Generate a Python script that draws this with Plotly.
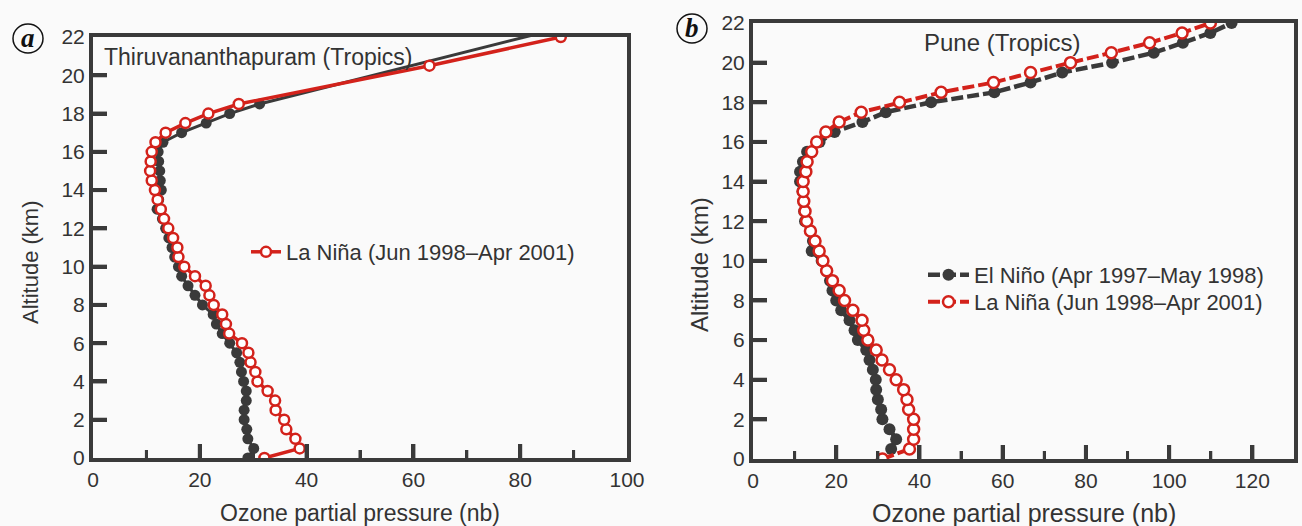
import plotly.graph_objects as go

W, H = 1302, 526

# ---------------- data ----------------
# Panel a: Thiruvananthapuram
alt_a_elnino = [0, 0.5, 1, 1.5, 2, 2.5, 3, 3.5, 4, 4.5, 5, 5.5, 6, 6.5, 7, 7.5, 8, 8.5, 9, 9.5,
                10, 10.5, 11, 11.5, 12, 12.5, 13, 13.5, 14, 14.5, 15, 15.5, 16, 16.5, 17, 17.5,
                18, 18.5, 22.5]
o3_a_elnino = [29.0, 30.1, 29.0, 28.8, 28.3, 28.3, 28.7, 28.7, 28.2, 27.8, 27.5, 26.9, 25.6, 24.2,
               23.1, 22.5, 20.5, 19.1, 17.8, 16.6, 16.0, 15.3, 14.8, 14.2, 13.6, 13.0, 12.0, 12.3,
               12.8, 12.6, 12.5, 12.3, 12.2, 13.1, 16.6, 21.2, 25.6, 31.2, 88.0]

alt_a_lanina = [0, 0.5, 1, 1.5, 2, 2.5, 3, 3.5, 4, 4.5, 5, 5.5, 6, 6.5, 7, 7.5, 8, 8.5, 9, 9.5,
                10, 10.5, 11, 11.5, 12, 12.5, 13, 13.5, 14, 14.5, 15, 15.5, 16, 16.5, 17, 17.5,
                18, 18.5, 20.5, 22]
o3_a_lanina = [32.1, 38.7, 37.9, 36.2, 35.8, 34.2, 34.1, 32.7, 30.8, 30.4, 29.5, 29.1, 27.9, 25.5,
               24.9, 24.2, 22.6, 21.8, 21.1, 19.1, 17.1, 16.0, 15.8, 15.0, 14.1, 13.3, 12.7, 12.1,
               11.6, 11.0, 10.7, 10.8, 11.0, 11.7, 13.6, 17.3, 21.6, 27.3, 63.0, 87.6]

# Panel b: Pune
alt_b = [0.5, 1, 1.5, 2, 2.5, 3, 3.5, 4, 4.5, 5, 5.5, 6, 6.5, 7, 7.5, 8, 8.5, 9, 9.5, 10,
         10.5, 11, 11.5, 12, 12.5, 13, 13.5, 14, 14.5, 15, 15.5, 16, 16.5, 17, 17.5, 18,
         18.5, 19, 19.5, 20, 20.5, 21, 21.5, 22]
o3_b_elnino = [33.2, 34.4, 32.8, 31.1, 30.8, 30.0, 29.6, 29.5, 28.8, 28.0, 27.2, 25.2, 24.4, 23.2,
               21.2, 20.0, 19.1, 18.5, 17.6, 16.5, 14.1, 14.4, 13.8, 12.5, 12.3, 12.1, 11.9, 11.3,
               11.3, 12.0, 13.0, 16.0, 19.6, 26.3, 31.9, 42.8, 58.0, 66.7, 74.3, 86.3, 96.3, 103.3,
               109.9, 115.0]

alt_b_lanina = [0, 0.5, 1, 1.5, 2, 2.5, 3, 3.5, 4, 4.5, 5, 5.5, 6, 6.5, 7, 7.5, 8, 8.5, 9, 9.5,
                10, 10.5, 11, 11.5, 12, 12.5, 13, 13.5, 14, 14.5, 15, 15.5, 16, 16.5, 17, 17.5,
                18, 18.5, 19, 19.5, 20, 20.5, 21, 21.5, 22]
o3_b_lanina = [31.1, 37.6, 38.6, 38.6, 38.6, 37.4, 37.0, 36.2, 34.4, 32.8, 31.0, 29.6, 27.6, 26.6,
               26.2, 24.0, 22.0, 20.7, 19.1, 17.7, 16.8, 15.9, 14.9, 13.8, 12.9, 12.5, 12.2, 12.05,
               12.05, 12.7, 13.0, 14.1, 15.3, 17.5, 20.7, 26.0, 35.2, 45.2, 57.8, 66.7, 76.3, 86.1,
               95.3, 103.1, 109.9]

# axes
x_range_a = [0, 100]
x_range_b = [0, 130]
y_range = [0, 22]
x_ticks_a = [0, 20, 40, 60, 80, 100]
x_minor_a = [10, 30, 50, 70, 90]
x_ticks_b = [0, 20, 40, 60, 80, 100, 120]
x_minor_b = [10, 30, 50, 70, 90, 110]
y_ticks = [0, 2, 4, 6, 8, 10, 12, 14, 16, 18, 20, 22]

name_elnino = "El Niño (Apr 1997–May 1998)"
name_lanina = "La Niña (Jun 1998–Apr 2001)"
title_a = "Thiruvananthapuram (Tropics)"
title_b = "Pune (Tropics)"
xlabel = "Ozone partial pressure (nb)"
ylabel = "Altitude (km)"

# ---------------- style ----------------
DARK = "#3a3a3a"
TXT = "#333333"
RED = "#d3221b"
BG = "#fafafa"
FONT = "Liberation Sans"
SERIF = "Liberation Serif"
MAJ_LEN, MIN_LEN = 14, 8

# plot areas in pixels (left, right, top, bottom)
a_x0, a_x1, a_top, a_bot = 93, 627, 37, 458
b_x0, b_x1, b_top, b_bot = 753, 1294, 23, 459


def px_x(p):
    return p / W


def px_y(p):
    return (H - p) / H


fig = go.Figure()

# Panel a traces
fig.add_trace(go.Scatter(x=o3_a_elnino, y=alt_a_elnino, mode="lines+markers", name=name_elnino,
                         line=dict(color=DARK, width=3),
                         marker=dict(color=DARK, size=11, symbol="circle"),
                         xaxis="x", yaxis="y", legend="legend"))
fig.add_trace(go.Scatter(x=o3_a_lanina, y=alt_a_lanina, mode="lines+markers", name=name_lanina,
                         line=dict(color=RED, width=3.5),
                         marker=dict(color="white", size=10, symbol="circle",
                                     line=dict(color=RED, width=2.5)),
                         xaxis="x", yaxis="y", legend="legend2"))
# Panel b traces
fig.add_trace(go.Scatter(x=o3_b_elnino, y=alt_b, mode="lines+markers", name=name_elnino,
                         line=dict(color=DARK, width=4.5, dash="12px,4px"),
                         marker=dict(color=DARK, size=12, symbol="circle"),
                         xaxis="x2", yaxis="y2", legend="legend3"))
fig.add_trace(go.Scatter(x=o3_b_lanina, y=alt_b_lanina, mode="lines+markers", name=name_lanina,
                         line=dict(color=RED, width=4, dash="12px,4px"),
                         marker=dict(color="white", size=11, symbol="circle",
                                     line=dict(color=RED, width=2.5)),
                         xaxis="x2", yaxis="y2", legend="legend4"))

fig.update_layout(template="none")

tickfont = dict(family=FONT, size=21, color=TXT)


def ax(**kw):
    d = dict(showline=True, linecolor=DARK, linewidth=4, mirror=True, ticks="inside",
             tickcolor=DARK, tickwidth=4, ticklen=MAJ_LEN, showgrid=False, zeroline=False,
             tickfont=tickfont)
    d.update(kw)
    return d


fig.update_layout(
    xaxis=ax(domain=[px_x(a_x0), px_x(a_x1)], range=x_range_a, tickvals=x_ticks_a, anchor="y",
             minor=dict(ticks="inside", tickvals=x_minor_a, ticklen=MIN_LEN, tickwidth=3,
                        tickcolor=DARK)),
    yaxis=ax(domain=[px_y(a_bot), px_y(a_top)], range=y_range, tickvals=y_ticks, anchor="x"),
    xaxis2=ax(domain=[px_x(b_x0), px_x(b_x1)], range=x_range_b, tickvals=x_ticks_b, anchor="y2",
              minor=dict(ticks="inside", tickvals=x_minor_b, ticklen=MIN_LEN, tickwidth=3,
                         tickcolor=DARK)),
    yaxis2=ax(domain=[px_y(b_bot), px_y(b_top)], range=y_range, tickvals=y_ticks, anchor="x2"),
)

leg_common = dict(xanchor="left", yanchor="middle", bgcolor="rgba(0,0,0,0)",
                  font=dict(family=FONT, size=22, color=TXT), borderwidth=0)
fig.update_layout(
    width=W, height=H, margin=dict(l=0, r=0, t=0, b=0),
    paper_bgcolor=BG, plot_bgcolor=BG,
    font=dict(family=FONT, color=TXT),
    legend=dict(x=px_x(246), y=px_y(228), itemwidth=30, **leg_common),
    legend2=dict(x=px_x(246), y=px_y(252), itemwidth=30, **leg_common),
    legend3=dict(x=px_x(923), y=px_y(275), itemwidth=41, **leg_common),
    legend4=dict(x=px_x(923), y=px_y(302), itemwidth=41, **leg_common),
)

annotations = [
    dict(text=title_a, x=px_x(102), y=px_y(57), xanchor="left", yanchor="middle",
         font=dict(family=FONT, size=23, color=TXT)),
    dict(text=title_b, x=px_x(922), y=px_y(43), xanchor="left", yanchor="middle",
         font=dict(family=FONT, size=24, color=TXT)),
    dict(text=xlabel, x=px_x((a_x0 + a_x1) / 2), y=px_y(513), xanchor="center", yanchor="middle",
         font=dict(family=FONT, size=23, color=TXT)),
    dict(text=xlabel, x=px_x((b_x0 + b_x1) / 2), y=px_y(513), xanchor="center", yanchor="middle",
         font=dict(family=FONT, size=25, color=TXT)),
    dict(text=ylabel, x=px_x(30), y=px_y(263), xanchor="center", yanchor="middle", textangle=-90,
         font=dict(family=FONT, size=22, color=TXT)),
    dict(text=ylabel, x=px_x(700), y=px_y(265), xanchor="center", yanchor="middle", textangle=-90,
         font=dict(family=FONT, size=24, color=TXT)),
    dict(text="<b><i>a</i></b>", x=px_x(28), y=px_y(38), xanchor="center", yanchor="middle",
         font=dict(family=SERIF, size=27, color="#111")),
    dict(text="<b><i>b</i></b>", x=px_x(692), y=px_y(28), xanchor="center", yanchor="middle",
         font=dict(family=SERIF, size=27, color="#111")),
]
for a in annotations:
    a.update(xref="paper", yref="paper", showarrow=False)
fig.update_layout(annotations=annotations)

shapes = [
    dict(type="circle", xref="paper", yref="paper", x0=px_x(13), x1=px_x(43), y0=px_y(53), y1=px_y(24),
         line=dict(color="#111", width=1.5)),
    dict(type="circle", xref="paper", yref="paper", x0=px_x(677), x1=px_x(707), y0=px_y(43), y1=px_y(14),
         line=dict(color="#111", width=1.5)),
]


def tick_shapes(xref, yref, xr, yr, xt, xm, yt):
    """Inside tick marks, anchored at tick values through the axes, sized in pixels."""
    out = []
    for vals, ln, lw in ((xt, MAJ_LEN, 4), (xm, MIN_LEN, 3)):
        for v in vals:
            if xr[0] < v < xr[1]:
                out.append(dict(type="line", xref=xref, yref=yref, x0=v, x1=v,
                                ysizemode="pixel", yanchor=yr[0], y0=0, y1=ln,
                                line=dict(color=DARK, width=lw), layer="above"))
    for v in yt:
        if yr[0] < v < yr[1]:
            out.append(dict(type="line", xref=xref, yref=yref, y0=v, y1=v,
                            xsizemode="pixel", xanchor=xr[0], x0=0, x1=MAJ_LEN,
                            line=dict(color=DARK, width=4), layer="above"))
    return out


shapes += tick_shapes("x", "y", x_range_a, y_range, x_ticks_a, x_minor_a, y_ticks)
shapes += tick_shapes("x2", "y2", x_range_b, y_range, x_ticks_b, x_minor_b, y_ticks)
fig.update_layout(shapes=shapes)

fig.write_html("out.html")
